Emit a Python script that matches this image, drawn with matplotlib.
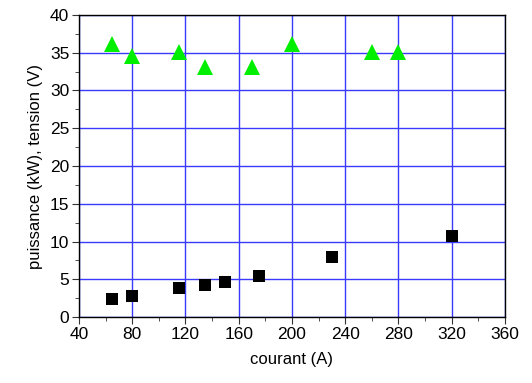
import numpy as np
import matplotlib.pyplot as plt
from matplotlib.ticker import MultipleLocator

plt.rcParams['font.family'] = ['Liberation Sans', 'DejaVu Sans']

# tension (V)
courant_tension = [65, 80, 115, 135, 170, 200, 260, 280]
tension = [36.2, 34.6, 35.1, 33.1, 33.1, 36.1, 35.1, 35.1]

# puissance (kW)
courant_puissance = [65, 80, 115, 135, 150, 175, 230, 320]
puissance = [2.4, 2.8, 3.8, 4.3, 4.7, 5.5, 7.9, 10.8]

fig = plt.figure(figsize=(5.32, 3.83), dpi=100)
ax = fig.add_axes([0.1485, 0.172, 0.8005, 0.789])

ax.grid(True, which='major', color='#3a3aff', linewidth=1.0)
ax.set_axisbelow(True)

ax.plot(courant_tension, tension, linestyle='none', marker='^',
        markersize=11.5, color='#00ee00', markeredgewidth=0, zorder=3)
ax.plot(courant_puissance, puissance, linestyle='none', marker='s',
        markersize=9, color='black', markeredgewidth=0, zorder=3)

ax.set_xlim(40, 360)
ax.set_ylim(0, 40)
ax.xaxis.set_major_locator(MultipleLocator(40))
ax.xaxis.set_minor_locator(MultipleLocator(20))
ax.yaxis.set_major_locator(MultipleLocator(5))
ax.yaxis.set_minor_locator(MultipleLocator(2.5))
ax.tick_params(which='both', direction='out', labelsize=12.5, color='#333333')
ax.tick_params(which='major', length=5, pad=2)
ax.tick_params(which='minor', length=3)

ax.set_xlabel('courant (A)', fontsize=12, labelpad=7)
ax.set_ylabel('puissance (kW), tension (V)', fontsize=12, labelpad=5)

for s in ax.spines.values():
    s.set_linewidth(1.0)

fig.savefig('out.png', dpi=100)
